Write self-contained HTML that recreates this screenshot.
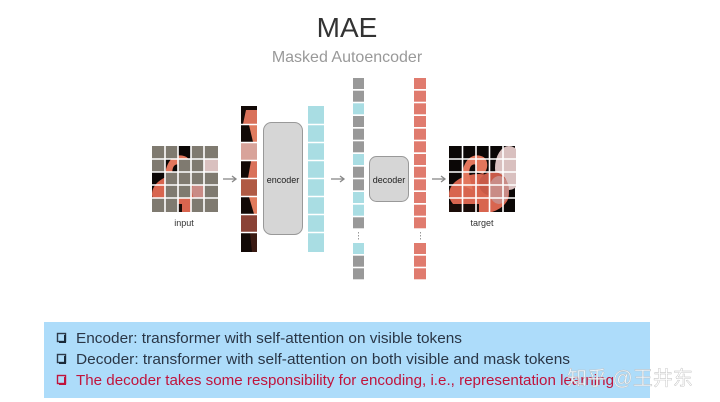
<!DOCTYPE html>
<html><head><meta charset="utf-8"><style>
html,body{margin:0;padding:0;background:#fff;width:720px;height:402px;overflow:hidden;}
svg{display:block}
</style></head><body>
<svg width="720" height="402" viewBox="0 0 720 402" xmlns="http://www.w3.org/2000/svg">
<defs>
<g id="img">
  <rect x="0" y="0" width="66" height="66" fill="#0b0706"/>
  <ellipse cx="60" cy="22" rx="14" ry="22" fill="#d9c0bf"/>
  <ellipse cx="30" cy="48" rx="30" ry="20" fill="#d8654f"/>
  <path d="M14 40 C10 20 20 6 32 10 C40 12 40 24 34 28 L26 26 C30 20 26 16 22 20 C18 26 22 36 24 44 Z" fill="#e2765c"/>
  <ellipse cx="44" cy="38" rx="14" ry="12" fill="#c85a48"/>
  <ellipse cx="50" cy="44" rx="10" ry="14" fill="#c98b86"/>
  <rect x="0" y="58" width="30" height="8" fill="#1a0c08"/>
</g>
<clipPath id="ct"><rect x="449" y="146" width="67" height="66"/></clipPath>
<clipPath id="ci"><rect x="152" y="146" width="66" height="66"/></clipPath>
</defs>

<text x="347" y="37" font-family="Liberation Sans, sans-serif" font-size="28" fill="#333" text-anchor="middle">MAE</text>
<text x="347" y="62" font-family="Liberation Sans, sans-serif" font-size="16" fill="#999" text-anchor="middle">Masked Autoencoder</text>

<!-- input -->
<g clip-path="url(#ci)"><use href="#img" transform="translate(152,146)"/></g>
<g fill="#7f7a70">
  <rect x="152" y="146" width="13" height="13"/><rect x="165" y="146" width="13" height="13"/><rect x="191" y="146" width="13" height="13"/><rect x="204" y="146" width="14" height="13"/>
  <rect x="152" y="159" width="13" height="13"/><rect x="178" y="159" width="13" height="13"/><rect x="191" y="159" width="13" height="13"/>
  <rect x="165" y="172" width="13" height="13"/><rect x="191" y="172" width="13" height="13"/><rect x="204" y="172" width="14" height="13"/><rect x="178" y="172" width="13" height="13"/>
  <rect x="165" y="185" width="13" height="13"/><rect x="178" y="185" width="13" height="13"/><rect x="204" y="185" width="14" height="13"/>
  <rect x="152" y="198" width="13" height="14"/><rect x="165" y="198" width="13" height="14"/><rect x="191" y="198" width="13" height="14"/><rect x="204" y="198" width="14" height="14"/>
</g>
<g stroke="#fff" stroke-width="1.6">
  <line x1="165" y1="146" x2="165" y2="212"/><line x1="178" y1="146" x2="178" y2="212"/><line x1="191" y1="146" x2="191" y2="212"/><line x1="204" y1="146" x2="204" y2="212"/>
  <line x1="152" y1="159" x2="218" y2="159"/><line x1="152" y1="172" x2="218" y2="172"/><line x1="152" y1="185" x2="218" y2="185"/><line x1="152" y1="198" x2="218" y2="198"/>
</g>
<text x="184" y="226" font-family="Liberation Sans, sans-serif" font-size="9" fill="#333" text-anchor="middle">input</text>

<!-- arrows -->
<g stroke="#888" stroke-width="1.3" fill="none">
  <line x1="223" y1="179" x2="235" y2="179"/><path d="M232 176 L236 179 L232 182"/>
  <line x1="331" y1="179" x2="343" y2="179"/><path d="M340 176 L344 179 L340 182"/>
  <line x1="432" y1="179" x2="444" y2="179"/><path d="M441 176 L445 179 L441 182"/>
</g>

<!-- masked strip -->
<rect x="241" y="106" width="16" height="146" fill="#120906"/>
<g>
  <path d="M246 110 h11 v14 h-14 Z" fill="#d9715a"/>
  <path d="M249 125 h8 v17 h-4 Z" fill="#e07c60"/>
  <rect x="241" y="143" width="16" height="17" fill="#d8a39a"/>
  <path d="M251 161 h6 v17 h-9 Z" fill="#d9715a"/>
  <rect x="241" y="179" width="16" height="17" fill="#b05a44"/>
  <path d="M249 197 h8 v17 h-3 Z" fill="#e07a5c"/>
  <rect x="241" y="215" width="16" height="17" fill="#8a4236"/>
  <path d="M250 233 h7 v19 h-5 Z" fill="#3a1a12"/>
</g>
<g stroke="#fff" stroke-width="1.5">
  <line x1="241" y1="124.5" x2="257" y2="124.5"/><line x1="241" y1="142.5" x2="257" y2="142.5"/><line x1="241" y1="160.5" x2="257" y2="160.5"/><line x1="241" y1="178.5" x2="257" y2="178.5"/><line x1="241" y1="196.5" x2="257" y2="196.5"/><line x1="241" y1="214.5" x2="257" y2="214.5"/><line x1="241" y1="232.5" x2="257" y2="232.5"/>
</g>

<!-- encoder -->
<rect x="263.5" y="122.5" width="39" height="112" rx="8" fill="#d6d6d6" stroke="#999" stroke-width="1"/>
<text x="283" y="183" font-family="Liberation Sans, sans-serif" font-size="9" fill="#222" text-anchor="middle">encoder</text>

<!-- cyan column -->
<rect x="308" y="106" width="16" height="146" fill="#a9dde3"/>
<g stroke="#fff" stroke-width="1.5">
  <line x1="308" y1="124.5" x2="324" y2="124.5"/><line x1="308" y1="142.5" x2="324" y2="142.5"/><line x1="308" y1="160.5" x2="324" y2="160.5"/><line x1="308" y1="178.5" x2="324" y2="178.5"/><line x1="308" y1="196.5" x2="324" y2="196.5"/><line x1="308" y1="214.5" x2="324" y2="214.5"/><line x1="308" y1="232.5" x2="324" y2="232.5"/>
</g>

<!-- gray/cyan tokens -->
<g>
  <rect x="353" y="78" width="11" height="11" fill="#999"/>
  <rect x="353" y="90.7" width="11" height="11" fill="#999"/>
  <rect x="353" y="103.3" width="11" height="11" fill="#a9dde3"/>
  <rect x="353" y="116" width="11" height="11" fill="#999"/>
  <rect x="353" y="128.7" width="11" height="11" fill="#999"/>
  <rect x="353" y="141.3" width="11" height="11" fill="#999"/>
  <rect x="353" y="154" width="11" height="11" fill="#a9dde3"/>
  <rect x="353" y="166.7" width="11" height="11" fill="#999"/>
  <rect x="353" y="179.3" width="11" height="11" fill="#999"/>
  <rect x="353" y="192" width="11" height="11" fill="#a9dde3"/>
  <rect x="353" y="204.7" width="11" height="11" fill="#a9dde3"/>
  <rect x="353" y="217.3" width="11" height="11" fill="#999"/>
  <rect x="353" y="243" width="11" height="11" fill="#a9dde3"/>
  <rect x="353" y="255.7" width="11" height="11" fill="#999"/>
  <rect x="353" y="268.3" width="11" height="11" fill="#999"/>
</g>
<g fill="#999"><rect x="358" y="232" width="1" height="1.5"/><rect x="358" y="235" width="1" height="1.5"/><rect x="358" y="238" width="1" height="1.5"/>
<rect x="420" y="232" width="1" height="1.5"/><rect x="420" y="235" width="1" height="1.5"/><rect x="420" y="238" width="1" height="1.5"/></g>

<!-- decoder -->
<rect x="369.5" y="156.5" width="39" height="45" rx="7" fill="#d6d6d6" stroke="#999" stroke-width="1"/>
<text x="389" y="183" font-family="Liberation Sans, sans-serif" font-size="9" fill="#222" text-anchor="middle">decoder</text>

<!-- red tokens -->
<g fill="#e07b6e">
  <rect x="414" y="78" width="12" height="11"/><rect x="414" y="90.7" width="12" height="11"/><rect x="414" y="103.3" width="12" height="11"/><rect x="414" y="116" width="12" height="11"/><rect x="414" y="128.7" width="12" height="11"/><rect x="414" y="141.3" width="12" height="11"/><rect x="414" y="154" width="12" height="11"/><rect x="414" y="166.7" width="12" height="11"/><rect x="414" y="179.3" width="12" height="11"/><rect x="414" y="192" width="12" height="11"/><rect x="414" y="204.7" width="12" height="11"/><rect x="414" y="217.3" width="12" height="11"/>
  <rect x="414" y="243" width="12" height="11"/><rect x="414" y="255.7" width="12" height="11"/><rect x="414" y="268.3" width="12" height="11"/>
</g>

<!-- target -->
<g clip-path="url(#ct)"><use href="#img" transform="translate(449,146)"/></g>
<g stroke="#fff" stroke-width="1.6">
  <line x1="462.5" y1="146" x2="462.5" y2="212"/><line x1="476" y1="146" x2="476" y2="212"/><line x1="489.5" y1="146" x2="489.5" y2="212"/><line x1="503" y1="146" x2="503" y2="212"/>
  <line x1="449" y1="159" x2="516" y2="159"/><line x1="449" y1="172" x2="516" y2="172"/><line x1="449" y1="185" x2="516" y2="185"/><line x1="449" y1="198" x2="516" y2="198"/>
</g>
<text x="482" y="226" font-family="Liberation Sans, sans-serif" font-size="9" fill="#333" text-anchor="middle">target</text>

<!-- bottom box -->
<rect x="44" y="322" width="606" height="76" fill="#addcfa"/>
<g fill="none" stroke-width="1.4">
  <rect x="57.5" y="333.5" width="8" height="8" stroke="#2d3a4a"/>
  <rect x="57.5" y="354.5" width="8" height="8" stroke="#2d3a4a"/>
  <rect x="57.5" y="375.5" width="8" height="8" stroke="#c0143c"/>
</g>
<g fill="#1a2a3a"><rect x="64" y="335" width="2" height="7.5"/><rect x="59" y="341" width="7" height="2"/>
<rect x="64" y="356" width="2" height="7.5"/><rect x="59" y="362" width="7" height="2"/></g>
<g fill="#c0143c"><rect x="64" y="377" width="2" height="7.5"/><rect x="59" y="383" width="7" height="2"/></g>
<g font-family="Liberation Sans, sans-serif" font-size="14.5">
<text x="76" y="343" fill="#2a3646" textLength="386" lengthAdjust="spacingAndGlyphs">Encoder: transformer with self-attention on visible tokens</text>
<text x="76" y="364" fill="#2a3646" textLength="494" lengthAdjust="spacingAndGlyphs">Decoder: transformer with self-attention on both visible and mask tokens</text>
<text x="76" y="385" fill="#c0143c" textLength="538" lengthAdjust="spacingAndGlyphs">The decoder takes some responsibility for encoding, i.e., representation learning</text>
</g>
<text x="567" y="385" font-family="Liberation Sans, 'Noto Sans CJK SC', sans-serif" font-size="20" fill="#ffffff" fill-opacity="0.75" stroke="#bbb" stroke-width="0.4">知乎 @王井东</text>
</svg>
</body></html>
